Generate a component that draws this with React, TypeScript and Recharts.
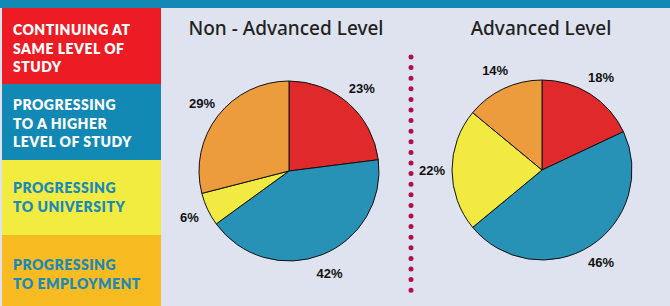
import { PieChart, Pie, Cell } from "recharts";

const CATEGORIES = [
  "Continuing at same level of study",
  "Progressing to a higher level of study",
  "Progressing to university",
  "Progressing to employment",
];
const NON_ADVANCED = [23, 42, 6, 29];
const ADVANCED = [18, 46, 22, 14];
const TITLES = ["Non - Advanced Level", "Advanced Level"];
const LEGEND_LINES = [
  ["CONTINUING AT", "SAME LEVEL OF", "STUDY"],
  ["PROGRESSING", "TO A HIGHER", "LEVEL OF STUDY"],
  ["PROGRESSING", "TO UNIVERSITY"],
  ["PROGRESSING", "TO EMPLOYMENT"],
];

const SLICE_COLORS = ["#e0292b", "#2891b6", "#f2ea41", "#ec9b3d"];
const BLOCKS = [
  { bg: "#ed1c24", fg: "#ffffff", top: 8, height: 76, pad: 17 },
  { bg: "#1289b5", fg: "#ffffff", top: 84, height: 76, pad: 16 },
  { bg: "#f2ec41", fg: "#1a8ab8", top: 160, height: 75, pad: 23 },
  { bg: "#f8bb22", fg: "#1a8ab8", top: 235, height: 71, pad: 25 },
];

const RADIAN = Math.PI / 180;

function renderLabel(props: any) {
  const { cx, cy, midAngle, outerRadius, value } = props;
  const r = outerRadius + 20;
  const x = cx + r * Math.cos(-midAngle * RADIAN);
  const y = cy + r * Math.sin(-midAngle * RADIAN);
  return (
    <text
      x={x}
      y={y}
      textAnchor="middle"
      dominantBaseline="central"
      fontFamily="'Liberation Sans', Arial, sans-serif"
      fontWeight={700}
      fontSize={13}
      fill="#111"
    >
      {`${value}%`}
    </text>
  );
}

export default function App() {
  const dataA = CATEGORIES.map((name, i) => ({ name, value: NON_ADVANCED[i] }));
  const dataB = CATEGORIES.map((name, i) => ({ name, value: ADVANCED[i] }));

  return (
    <div
      style={{
        position: "relative",
        width: 670,
        height: 306,
        background: "#dfe3ef",
        overflow: "hidden",
      }}
    >
      <style>{`body{margin:0}`}</style>
      <div style={{ position: "absolute", left: 0, top: 0, width: 670, height: 8, background: "#1289b5" }} />
      {BLOCKS.map((b, i) => (
        <div
          key={i}
          style={{
            position: "absolute",
            left: 2,
            top: b.top,
            width: 159,
            height: b.height,
            background: b.bg,
            color: b.fg,
            boxSizing: "border-box",
            paddingTop: b.pad - 4,
            paddingLeft: 11,
            fontFamily: "Lato, 'Open Sans', sans-serif",
            fontWeight: 800,
            fontSize: 14,
            lineHeight: "18.5px",
            letterSpacing: 0.5,
          }}
        >
          {LEGEND_LINES[i].map((l, j) => (
            <div key={j}>{l}</div>
          ))}
        </div>
      ))}
      {TITLES.map((t, i) => (
        <div
          key={t}
          style={{
            position: "absolute",
            left: i === 0 ? 186 : 441,
            width: 200,
            top: 15,
            textAlign: "center",
            fontFamily: "'Noto Sans', sans-serif",
            fontWeight: 500,
            fontSize: 19,
            color: "#222",
          }}
        >
          {t}
        </div>
      ))}
      <svg style={{ position: "absolute", left: 0, top: 0 }} width={670} height={306}>
        <line
          x1={411}
          y1={57}
          x2={411}
          y2={291}
          stroke="#b0104a"
          strokeWidth={5}
          strokeLinecap="round"
          strokeDasharray="0 10.6"
        />
      </svg>
      <div style={{ position: "absolute", left: 0, top: 0 }}>
        <PieChart width={670} height={306} margin={{ top: 0, right: 0, bottom: 0, left: 0 }}>
          <Pie
            data={dataA}
            dataKey="value"
            nameKey="name"
            cx={289}
            cy={171}
            outerRadius={90}
            startAngle={90}
            endAngle={-270}
            stroke="#111"
            strokeWidth={1}
            label={renderLabel}
            labelLine={false}
            isAnimationActive={false}
          >
            {dataA.map((d, i) => (
              <Cell key={d.name} fill={SLICE_COLORS[i]} />
            ))}
          </Pie>
          <Pie
            data={dataB}
            dataKey="value"
            nameKey="name"
            cx={542}
            cy={170}
            outerRadius={90}
            startAngle={90}
            endAngle={-270}
            stroke="#111"
            strokeWidth={1}
            label={renderLabel}
            labelLine={false}
            isAnimationActive={false}
          >
            {dataB.map((d, i) => (
              <Cell key={d.name} fill={SLICE_COLORS[i]} />
            ))}
          </Pie>
        </PieChart>
      </div>
    </div>
  );
}
